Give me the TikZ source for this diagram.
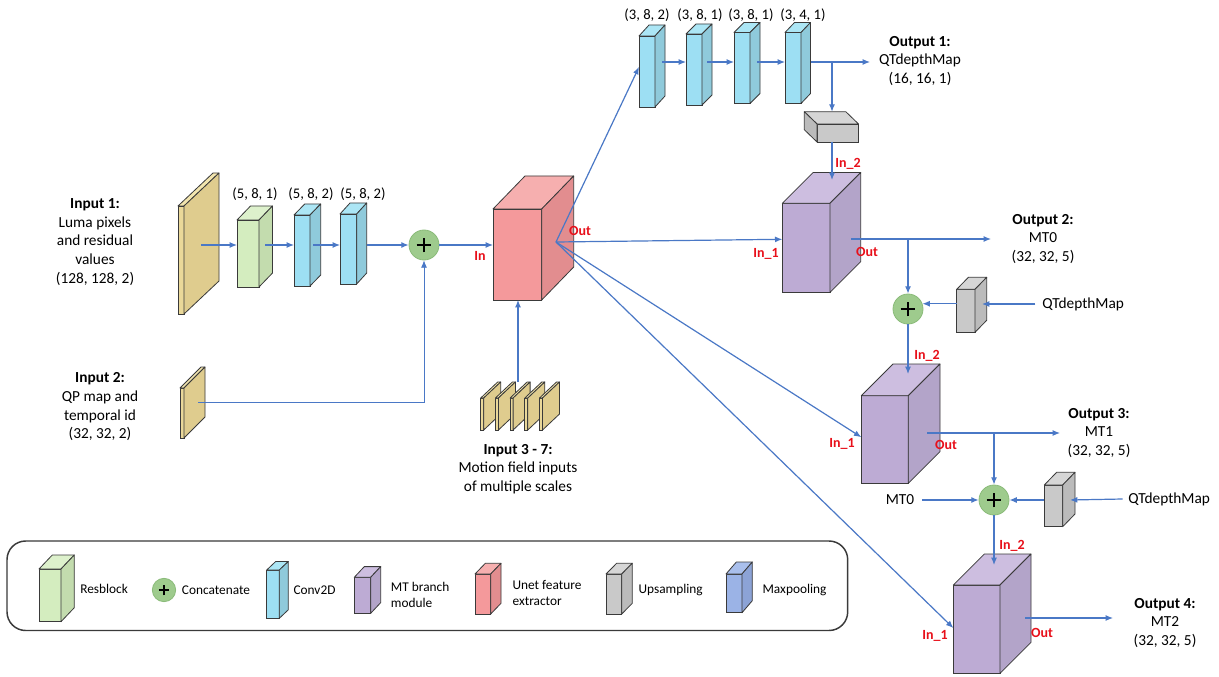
\documentclass[tikz,border=0pt]{standalone}
\usepackage{fontspec}
\setmainfont{Carlito}
\usetikzlibrary{arrows.meta,calc}
\definecolor{arrowblue}{HTML}{4A78C6}
\definecolor{redlbl}{HTML}{E8101A}
\definecolor{edgec}{HTML}{3A3A3A}
\definecolor{yelf}{HTML}{EAD899}\definecolor{yels}{HTML}{DFCC8E}\definecolor{yelt}{HTML}{F2E5AE}
\definecolor{grnf}{HTML}{D4EDBF}\definecolor{grns}{HTML}{C3DCAE}\definecolor{grnt}{HTML}{DDF1CC}
\definecolor{cyaf}{HTML}{9DDFF3}\definecolor{cyas}{HTML}{8FCADB}\definecolor{cyat}{HTML}{ACE6F5}
\definecolor{redf}{HTML}{F4999B}\definecolor{reds}{HTML}{E28D8F}\definecolor{redt}{HTML}{F6AFAF}
\definecolor{purf}{HTML}{BDABD4}\definecolor{purs}{HTML}{B3A4C9}\definecolor{purt}{HTML}{CDBEE0}
\definecolor{gryf}{HTML}{C9C9C9}\definecolor{grys}{HTML}{BBBBBB}\definecolor{gryt}{HTML}{D6D6D6}
\definecolor{bluf}{HTML}{9BB3E6}\definecolor{blus}{HTML}{8CA3D6}\definecolor{blut}{HTML}{A9BFEC}
\definecolor{plusfill}{HTML}{9ECB8D}\definecolor{plusedge}{HTML}{8ABB79}
\newcommand\cuboid[8]{%
  \node[cubefront, fill=#8f, minimum width=#4*0.75pt, minimum height=#5*0.75pt, anchor=north west] (#1) at (#2,#3) {};
  \filldraw[cubeedge, fill=#8t] (#1.north west) -- ++(#6,-#7) -- ++(#4,0) -- (#1.north east) -- cycle;
  \filldraw[cubeedge, fill=#8s] (#1.north east) -- ++(#6,-#7) -- ++(0,#5) -- (#1.south east) -- cycle;
}
\tikzset{
  cubefront/.style={draw=edgec, line width=0.6pt, inner sep=0, outer sep=0, rectangle},
  cubeedge/.style={draw=edgec, line width=0.6pt, line join=round},
  arr/.style={draw=arrowblue, line width=0.9pt, -{Latex[length=5.5pt,width=4.5pt]}},
  thinarr/.style={draw=arrowblue, line width=0.6pt, -{Latex[length=5.5pt,width=4.5pt]}},
  plusc/.style={circle, draw=plusedge, fill=plusfill, minimum size=#1, inner sep=0, line width=0.6pt},
  plusbig/.style={plusc=22.5pt, path picture={\draw[draw=black, line width=1.5pt] ([xshift=-5.5pt]path picture bounding box.center) -- ([xshift=5.5pt]path picture bounding box.center) ([yshift=-5.5pt]path picture bounding box.center) -- ([yshift=5.5pt]path picture bounding box.center);}},
  plussmall/.style={plusc=17.5pt, path picture={\draw[draw=black, line width=1.2pt] ([xshift=-4pt]path picture bounding box.center) -- ([xshift=4pt]path picture bounding box.center) ([yshift=-4pt]path picture bounding box.center) -- ([yshift=4pt]path picture bounding box.center);}},
  lbl/.style={font=\fontsize{11.5}{14}\selectfont, align=center, inner sep=0},
  dimlbl/.style={font=\fontsize{11}{13}\selectfont, inner sep=0},
  redl/.style={font=\fontsize{10.5}{12}\selectfont\bfseries, text=redlbl, inner sep=0},
  leg/.style={font=\fontsize{10}{12.5}\selectfont, align=left, inner sep=0, anchor=west},
}
\begin{document}
\begin{tikzpicture}[x=0.75pt,y=-0.75pt]
\fill[white] (0,0) rectangle (1219,677);
\useasboundingbox (0,0) rectangle (1219,677);

% ---------- Inputs ----------
\node[lbl] (t-in1) at (95,242) {\textbf{Input 1:}\\Luma pixels\\and residual\\values\\(128, 128, 2)};
\node[lbl] (t-in2) at (100,407) {\textbf{Input 2:}\\QP map and\\temporal id\\(32, 32, 2)};
\cuboid{in1}{178}{206}{6}{108}{35}{33}{yel}
\cuboid{in2}{180}{388}{4}{50}{21}{21}{yel}
\cuboid{res}{237}{220}{22}{67}{13.5}{14}{grn}
\cuboid{conva}{294}{215}{16}{71}{10.7}{11}{cya}
\cuboid{convb}{340}{214}{16.7}{70}{10}{11}{cya}
\node[dimlbl] (d1) at (255,194) {(5, 8, 1)};
\node[dimlbl] (d2) at (311,194) {(5, 8, 2)};
\node[dimlbl] (d3) at (363,194) {(5, 8, 2)};
\node[plusbig] (plus1) at (424,245) {};

% ---------- Unet ----------
\cuboid{unet}{493}{209}{48.7}{91}{32}{33}{red}
\node[redl] (l-in) at (480,256) {In};
\node[redl] (l-out) at (580,231) {Out};
\foreach \i in {0,...,4}{
  \cuboid{mi\i}{480.7+14.7*\i}{398}{3}{32}{17}{16}{yel}
}
\node[lbl] (t-in3) at (518,469) {\textbf{Input 3 - 7:}\\Motion field inputs\\of multiple scales};

% ---------- Top conv branch ----------
\cuboid{c1}{639}{36}{16}{71}{10}{11}{cya}
\cuboid{c2}{686}{34}{16}{71}{10}{10}{cya}
\cuboid{c3}{734}{32.5}{16}{71}{10}{10}{cya}
\cuboid{c4}{785}{32.5}{16}{71}{9.5}{10}{cya}
\node[dimlbl] (d4) at (647,15) {(3, 8, 2)};
\node[dimlbl] (d5) at (700,15) {(3, 8, 1)};
\node[dimlbl] (d6) at (751,15) {(3, 8, 1)};
\node[dimlbl] (d7) at (803,15) {(3, 4, 1)};
\node[lbl] (t-out1) at (920,61) {\textbf{Output 1:}\\QTdepthMap\\(16, 16, 1)};
% grey upsampling block (depth towards the left)
\node[cubefront, fill=gryf, minimum width=41.5*0.75pt, minimum height=18*0.75pt, anchor=north west] (g1) at (817,124) {};
\filldraw[cubeedge, fill=gryt] (g1.north west) -- ++(-12.7,-12.3) -- ++(41.5,0) -- (g1.north east) -- cycle;
\filldraw[cubeedge, fill=grys] (g1.north west) -- ++(-12.7,-12.3) -- ++(0,18) -- (g1.south west) -- cycle;

% ---------- MT branches ----------
\cuboid{mt0}{782.3}{203.3}{47.7}{89}{30.7}{30.7}{pur}
\cuboid{mt1}{861.3}{395.7}{47}{87.6}{31.7}{31.7}{pur}
\cuboid{mt2}{953.3}{585}{46.7}{88.3}{31}{31}{pur}
\cuboid{g2}{956.7}{289.3}{18.3}{43}{11.7}{12}{gry}
\cuboid{g3}{1044.3}{485}{18.4}{41.7}{12.3}{12.7}{gry}
\node[plusbig] (plus2) at (908,309) {};
\node[plusbig] (plus3) at (994,500) {};

\node[redl] (l-in2a) at (848,164) {In\_2};
\node[redl] (l-in1a) at (766,254) {In\_1};
\node[redl] (l-outa) at (867,252) {Out};
\node[redl] (l-in2b) at (927,356) {In\_2};
\node[redl] (l-in1b) at (842,444) {In\_1};
\node[redl] (l-outb) at (946,445) {Out};
\node[redl] (l-in2c) at (1012,546) {In\_2};
\node[redl] (l-in1c) at (935,636) {In\_1};
\node[redl] (l-outc) at (1042,633) {Out};

\node[lbl] (t-out2) at (1043,239) {\textbf{Output 2:}\\MT0\\(32, 32, 5)};
\node[lbl] (t-out3) at (1099,433) {\textbf{Output 3:}\\MT1\\(32, 32, 5)};
\node[lbl] (t-out4) at (1165,623) {\textbf{Output 4:}\\MT2\\(32, 32, 5)};
\node[lbl, anchor=west] (qt2) at (1042,304) {QTdepthMap};
\node[lbl, anchor=west] (qt3) at (1128,499) {QTdepthMap};
\node[lbl] (mt0lbl) at (900,500) {MT0};

% ---------- connectors ----------
\coordinate (s-in1) at (201,245);
\coordinate (s-res) at (265,245);
\coordinate (s-ca) at (313,245);
\coordinate (s-cb) at (367,245);
\draw[arr] (s-in1) -- (s-in1 -| res.west);
\draw[arr] (s-res) -- (s-res -| conva.west);
\draw[arr] (s-ca) -- (s-ca -| convb.west);
\draw[arr] (s-cb) -- (plus1.west);
\coordinate (s-in2) at (198,402);
\draw[thinarr] (s-in2) -- (s-in2 -| plus1.south) -- (plus1.south);
\draw[arr] (plus1.east) -- (plus1.east -| unet.west);
\coordinate (s-mi) at (518,382);
\draw[arr] (s-mi) -- (s-mi |- unet.south);

\coordinate (uo) at (556,242);
\path (c1.north west) ++(0,31) coordinate (c1in);
\path (mt0.north west) ++(0,36) coordinate (mt0in);
\path (mt1.north west) ++(0,41.5) coordinate (mt1in);
\path (mt2.north west) ++(0,43) coordinate (mt2in);
\draw[arr] (uo) -- (c1in);
\draw[arr] (uo) -- (mt0in);
\draw[arr] (uo) -- (mt1in);
\draw[arr] (uo) -- (mt2in);

\coordinate (t1) at (662,62);
\coordinate (t2) at (707,62);
\coordinate (t3) at (757,62);
\coordinate (t4) at (811,62);
\coordinate (o1end) at (870,62);
\coordinate (br1) at (832,62);
\draw[arr] (t1) -- (t1 -| c2.west);
\draw[arr] (t2) -- (t2 -| c3.west);
\draw[arr] (t3) -- (t3 -| c4.west);
\draw[arr] (t4) -- (o1end);
\path (g1.north west) ++(0,-12.3) coordinate (g1top);
\draw[arr] (br1) -- (br1 |- g1top);
\coordinate (mt0in2) at (832,180);
\draw[arr] (br1 |- g1.south) -- (mt0in2);

\coordinate (mt0o) at (851,239);
\coordinate (o2end) at (991,239);
\coordinate (br2) at (908,239);
\draw[arr] (mt0o) -- (o2end);
\draw[arr] (br2) -- (plus2.north);
\coordinate (g2in) at (982,304);
\draw[arr] ([xshift=-5pt]qt2.west) -- (g2in);
\draw[arr] (g2.west |- plus2.20) -- (plus2.20);
\coordinate (mt1in2) at (908,374);
\draw[arr] (plus2.south) -- (mt1in2);

\coordinate (mt1o) at (927,433);
\coordinate (o3end) at (1060,433);
\coordinate (br3) at (994,433);
\draw[arr] (mt1o) -- (o3end);
\draw[arr] (br3) -- (plus3.north);
\draw[arr] ([xshift=6pt]mt0lbl.east) -- (plus3.west);
\coordinate (g3in) at (1070,500);
\draw[arr] ([xshift=-4pt]qt3.west) -- (g3in);
\draw[arr] (g3.west |- plus3.east) -- (plus3.east);
\coordinate (mt2in2) at (994,565);
\draw[arr] (plus3.south) -- (mt2in2);

\coordinate (mt2o) at (1025,618);
\coordinate (o4end) at (1113,618);
\draw[arr] (mt2o) -- (o4end);

% ---------- Legend ----------
\draw[draw=edgec, line width=1.1pt, rounded corners=14pt] (7,541) rectangle (847.7,630.5);
\cuboid{lres}{39}{569}{22}{52.7}{13.3}{14}{grn}
\node[leg] (tl-res) at (80,589) {Resblock};
\node[plussmall] (lplus) at (164,590) {};
\node[leg] (tl-cat) at (181.7,590) {Concatenate};
\cuboid{lconv}{266.7}{570}{12.6}{48.3}{9}{8.5}{cya}
\node[leg] (tl-conv) at (293.3,590) {Conv2D};
\cuboid{lmt}{354.3}{577.3}{16.4}{36}{10}{10.7}{pur}
\node[leg] (tl-mt) at (390.7,595) {MT branch\\module};
\cuboid{lunet}{475}{574}{15.7}{40}{10.3}{10.7}{red}
\node[leg] (tl-unet) at (512.3,593) {Unet feature\\extractor};
\cuboid{lup}{606}{574}{15.7}{40}{10.6}{10.7}{gry}
\node[leg] (tl-up) at (638.3,590) {Upsampling};
\cuboid{lmax}{726}{574}{16}{38.7}{10.3}{12}{blu}
\node[leg] (tl-max) at (762.3,590) {Maxpooling};
\end{tikzpicture}
\end{document}
